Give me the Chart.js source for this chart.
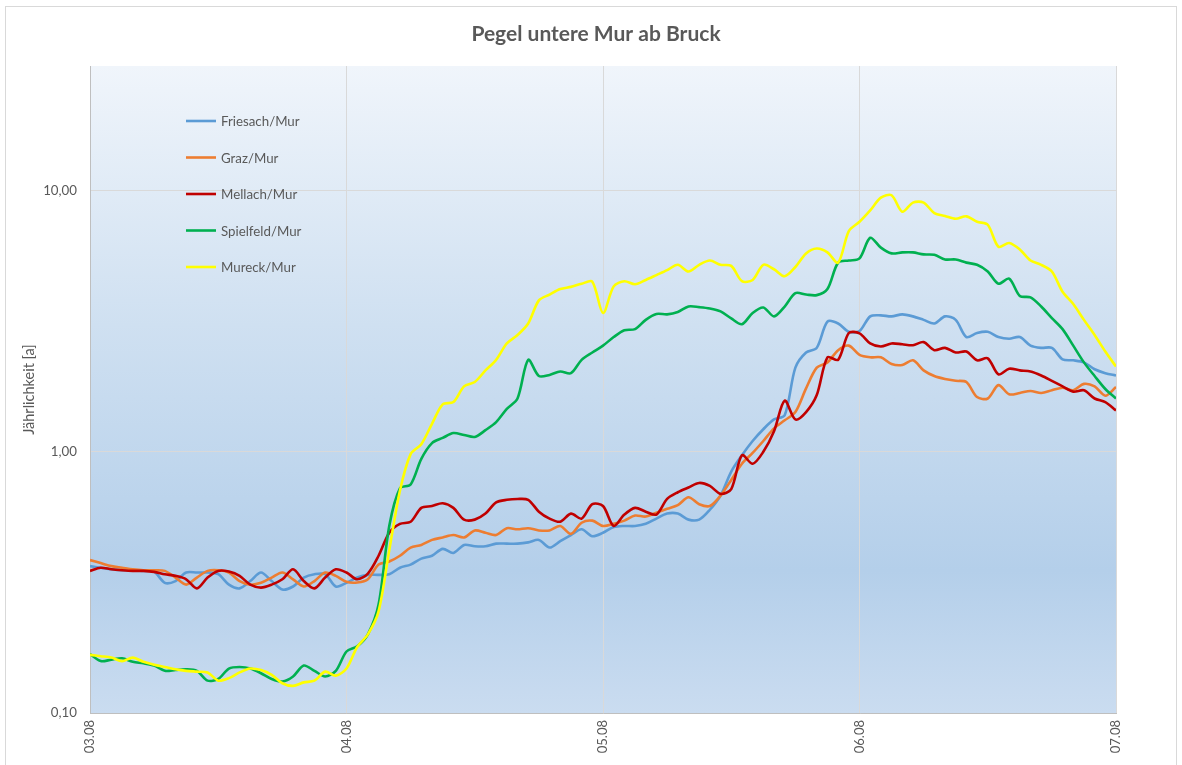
<!DOCTYPE html>
<html><head><meta charset="utf-8">
<script src="https://cdn.jsdelivr.net/npm/chart.js@4.4.1/dist/chart.umd.min.js"></script>
<style>html,body{margin:0;padding:0;background:#fff}#wrap{width:1182px;height:765px;position:relative}</style>
</head><body><div id="wrap"><canvas id="c"></canvas></div>
<script>
const chartTitle = 'Pegel untere Mur ab Bruck';
const yAxisTitle = 'Jährlichkeit [a]';
const seriesNames = ['Friesach/Mur','Graz/Mur','Mellach/Mur','Spielfeld/Mur','Mureck/Mur'];
const dayLabels = ['03.08','04.08','05.08','06.08','07.08'];
const dayTickHours = [0,24,48,72,96];
const yTickValues = [0.1,1,10];
const yTickLabels = ['0,10','1,00','10,00'];
const hours = [0,1,2,3,4,5,6,7,8,9,10,11,12,13,14,15,16,17,18,19,20,21,22,23,24,
  25,26,27,28,29,30,31,32,33,34,35,36,37,38,39,40,41,42,43,44,45,46,47,48,
  49,50,51,52,53,54,55,56,57,58,59,60,61,62,63,64,65,66,67,68,69,70,71,72,
  73,74,75,76,77,78,79,80,81,82,83,84,85,86,87,88,89,90,91,92,93,94,95,96];

const friesach = [0.365,0.36,0.355,0.352,0.352,0.35,0.348,0.315,0.32,0.345,0.345,0.345,0.34,0.31,0.30,0.32,0.345,0.32,0.297,0.305,0.33,0.34,0.34,0.305,0.315,
  0.33,0.338,0.338,0.34,0.36,0.37,0.39,0.40,0.425,0.41,0.44,0.435,0.435,0.445,0.445,0.445,0.45,0.46,0.43,0.455,0.48,0.505,0.475,0.49,
  0.515,0.52,0.52,0.53,0.555,0.58,0.58,0.55,0.55,0.6,0.68,0.84,0.97,1.1,1.22,1.33,1.38,2.1,2.4,2.5,3.15,3.1,2.88,2.9,
  3.3,3.33,3.3,3.36,3.3,3.2,3.1,3.3,3.2,2.75,2.85,2.88,2.75,2.71,2.75,2.55,2.5,2.5,2.26,2.24,2.2,2.07,2.0,1.96];
const graz = [0.385,0.375,0.365,0.36,0.355,0.352,0.352,0.35,0.33,0.31,0.33,0.35,0.352,0.345,0.32,0.31,0.315,0.33,0.345,0.325,0.305,0.32,0.345,0.335,0.318,
  0.316,0.325,0.37,0.38,0.40,0.43,0.44,0.46,0.47,0.48,0.47,0.50,0.49,0.48,0.51,0.505,0.51,0.50,0.50,0.52,0.485,0.535,0.545,0.52,
  0.53,0.545,0.57,0.565,0.585,0.605,0.625,0.67,0.63,0.62,0.68,0.78,0.9,0.99,1.1,1.23,1.32,1.42,1.75,2.1,2.2,2.45,2.55,2.35,
  2.3,2.3,2.17,2.15,2.24,2.05,1.95,1.9,1.87,1.85,1.62,1.6,1.8,1.66,1.68,1.71,1.68,1.72,1.76,1.72,1.82,1.78,1.64,1.77];
const mellach = [0.35,0.36,0.355,0.352,0.35,0.35,0.347,0.34,0.335,0.325,0.30,0.33,0.35,0.348,0.335,0.31,0.302,0.31,0.325,0.355,0.32,0.30,0.33,0.355,0.345,
  0.325,0.342,0.40,0.49,0.53,0.54,0.61,0.62,0.635,0.61,0.55,0.55,0.58,0.64,0.655,0.66,0.655,0.59,0.555,0.54,0.58,0.555,0.63,0.62,
  0.52,0.575,0.61,0.59,0.575,0.66,0.70,0.73,0.76,0.74,0.69,0.72,0.97,0.9,1.0,1.2,1.57,1.33,1.42,1.65,2.3,2.25,2.85,2.84,
  2.6,2.53,2.6,2.58,2.56,2.63,2.45,2.5,2.4,2.42,2.24,2.28,1.98,2.08,2.05,2.03,1.96,1.87,1.78,1.7,1.72,1.6,1.55,1.44];
const spielfeld = [0.168,0.158,0.16,0.162,0.157,0.155,0.152,0.145,0.146,0.147,0.145,0.133,0.135,0.148,0.15,0.148,0.142,0.135,0.132,0.138,0.152,0.145,0.138,0.145,0.172,
  0.18,0.20,0.26,0.52,0.725,0.75,0.94,1.08,1.13,1.18,1.16,1.14,1.21,1.3,1.46,1.6,2.25,1.95,1.97,2.03,2.0,2.25,2.4,2.55,
  2.75,2.92,2.95,3.2,3.37,3.36,3.43,3.6,3.58,3.54,3.45,3.24,3.08,3.4,3.57,3.3,3.6,4.05,4.0,3.98,4.2,5.3,5.4,5.5,
  6.6,6.05,5.75,5.8,5.8,5.7,5.68,5.45,5.45,5.3,5.2,4.9,4.4,4.6,3.95,3.9,3.6,3.25,2.95,2.55,2.2,1.95,1.74,1.6];
const mureck = [0.167,0.165,0.163,0.158,0.163,0.157,0.153,0.15,0.147,0.145,0.144,0.143,0.133,0.136,0.143,0.148,0.146,0.14,0.13,0.127,0.131,0.133,0.144,0.139,0.148,
  0.179,0.2,0.245,0.42,0.71,0.98,1.07,1.28,1.52,1.55,1.78,1.85,2.05,2.25,2.6,2.8,3.1,3.8,4.0,4.2,4.28,4.4,4.48,3.4,
  4.3,4.5,4.38,4.55,4.75,4.96,5.2,4.9,5.2,5.4,5.2,5.15,4.5,4.55,5.2,5.0,4.7,5.1,5.75,6.0,5.8,5.3,7.0,7.6,
  8.4,9.4,9.6,8.3,9.0,9.0,8.2,8.0,7.8,7.97,7.6,7.4,6.1,6.3,5.95,5.4,5.2,4.9,4.1,3.68,3.2,2.8,2.42,2.12];

const seriesValues = [friesach, graz, mellach, spielfeld, mureck];
const seriesColors = ['#5b9bd5','#ed7d31','#c00000','#00b050','#ffff00'];
const FONT = 'Lato, "Open Sans", sans-serif';
const TXT = '#595959';

const datasets = seriesNames.map((name, i) => ({
  label: name,
  data: hours.map((h, j) => ({x: h, y: seriesValues[i][j]})),
  borderColor: seriesColors[i],
  backgroundColor: seriesColors[i],
  borderWidth: 2.6,
  pointRadius: 0,
  tension: 0.3,
  fill: false,
  order: seriesNames.length - 1 - i
}));

const framePlugin = {
  id: 'frame',
  beforeDraw(chart) {
    const {ctx, chartArea: a} = chart;
    ctx.save();
    ctx.fillStyle = '#ffffff';
    ctx.fillRect(0, 0, chart.width, chart.height);
    ctx.strokeStyle = '#d9d9d9';
    ctx.lineWidth = 1;
    ctx.strokeRect(5.5, 6.5, 1171, 770);
    const g = ctx.createLinearGradient(0, a.top, 0, a.bottom);
    g.addColorStop(0, '#f0f5fb');
    g.addColorStop(0.4, '#cfe0f1');
    g.addColorStop(0.78, '#b4cfea');
    g.addColorStop(1, '#cadcf0');
    ctx.fillStyle = g;
    ctx.fillRect(a.left, a.top, a.right - a.left, a.bottom - a.top);
    ctx.fillStyle = TXT;
    ctx.font = 'bold 21px ' + FONT;
    ctx.textAlign = 'center';
    ctx.textBaseline = 'middle';
    ctx.fillText(chartTitle, 596, 34);
    ctx.restore();
  }
};

const legendPlugin = {
  id: 'innerLegend',
  afterDatasetsDraw(chart) {
    const {ctx} = chart;
    ctx.save();
    ctx.font = '13.3px ' + FONT;
    ctx.textBaseline = 'middle';
    ctx.textAlign = 'left';
    chart.data.datasets.forEach((ds, i) => {
      const y = 121 + i * 36.5;
      ctx.strokeStyle = ds.borderColor;
      ctx.lineWidth = 2.6;
      ctx.beginPath();
      ctx.moveTo(186, y);
      ctx.lineTo(216, y);
      ctx.stroke();
      ctx.fillStyle = TXT;
      ctx.fillText(ds.label, 221, y + 1);
    });
    ctx.restore();
  }
};

new Chart(document.getElementById('c'), {
  type: 'line',
  data: {datasets},
  options: {
    responsive: true,
    maintainAspectRatio: false,
    animation: false,
    layout: {padding: {left: 5, right: 66, top: 66, bottom: 0}},
    plugins: {
      legend: {display: false},
      tooltip: {enabled: false},
      title: {display: false}
    },
    scales: {
      x: {
        type: 'linear', min: 0, max: 96,
        afterBuildTicks: s => { s.ticks = dayTickHours.map(v => ({value: v})); },
        afterFit: s => { s.height = 52; },
        ticks: {
          callback: v => dayLabels[dayTickHours.indexOf(v)],
          maxRotation: 90, minRotation: 90, autoSkip: false,
          color: TXT, font: {family: FONT, size: 13}, padding: 7
        },
        grid: {color: '#d9d9d9', lineWidth: 1, drawTicks: false},
        border: {color: '#bfbfbf', width: 1}
      },
      y: {
        type: 'logarithmic', min: 0.1, max: 30,
        afterBuildTicks: s => { s.ticks = yTickValues.map(v => ({value: v})); },
        afterFit: s => { s.width = 85; },
        ticks: {
          callback: v => yTickLabels[yTickValues.findIndex(t => Math.abs(t - v) < 1e-9)],
          color: TXT, font: {family: FONT, size: 13.3}, padding: 13, autoSkip: false
        },
        title: {display: true, text: yAxisTitle, color: TXT, font: {family: FONT, size: 14.5}, padding: {top: 16, bottom: 0}},
        grid: {color: '#d9d9d9', lineWidth: 1, drawTicks: false},
        border: {color: '#bfbfbf', width: 1}
      }
    }
  },
  plugins: [framePlugin, legendPlugin]
});
</script></body></html>
